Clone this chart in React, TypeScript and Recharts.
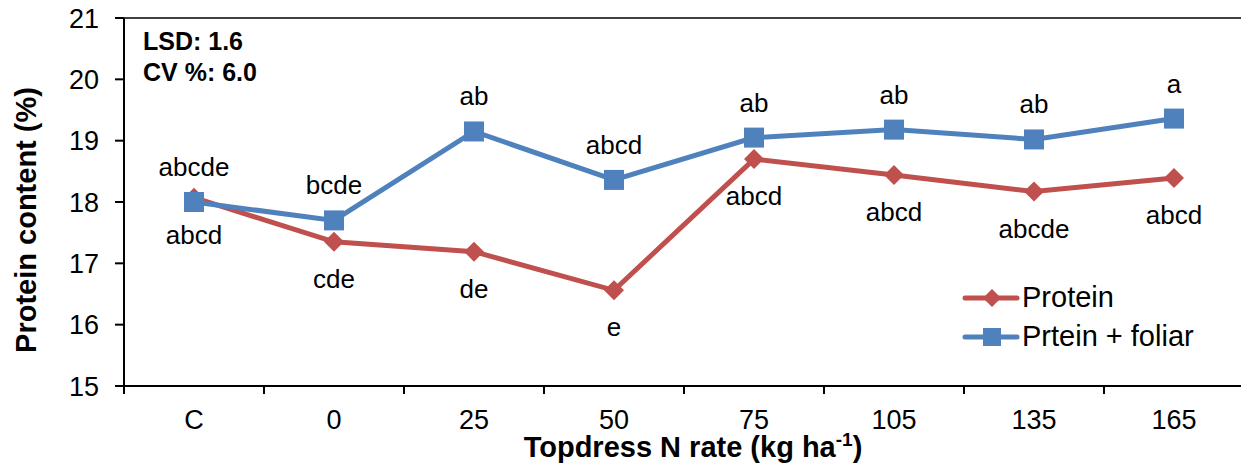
import { LineChart, Line, XAxis, YAxis, Legend, LabelList, ReferenceLine } from "recharts";

const categories = ["C", "0", "25", "50", "75", "105", "135", "165"];
const protein = [18.07, 17.35, 17.19, 16.56, 18.7, 18.44, 18.17, 18.39];
const foliar = [18.0, 17.7, 19.15, 18.36, 19.05, 19.18, 19.02, 19.36];
const proteinLetters = ["abcd", "cde", "de", "e", "abcd", "abcd", "abcde", "abcd"];
const foliarLetters = ["abcde", "bcde", "ab", "abcd", "ab", "ab", "ab", "a"];
const yTicks = [15, 16, 17, 18, 19, 20, 21];

const FONT = '"Liberation Sans", Arial, sans-serif';
const RED = "#C0504D";
const BLUE = "#4F81BD";

// x positions sit in the middle of each category band, ticks on the band edges
const data = categories.map((name, i) => ({
  pos: i + 0.5,
  name,
  protein: protein[i],
  foliar: foliar[i],
  proteinLetter: proteinLetters[i],
  foliarLetter: foliarLetters[i],
}));
const xTicks = Array.from({ length: categories.length * 2 + 1 }, (_, i) => i / 2);

function Diamond({ cx, cy, size = 10 }: { cx?: number; cy?: number; size?: number }) {
  if (cx == null || cy == null) return null;
  const r = size;
  return (
    <polygon
      points={`${cx},${cy - r} ${cx + r},${cy} ${cx},${cy + r} ${cx - r},${cy}`}
      fill={RED}
    />
  );
}

function Square({ cx, cy, side = 20 }: { cx?: number; cy?: number; side?: number }) {
  if (cx == null || cy == null) return null;
  return <rect x={cx - side / 2} y={cy - side / 2} width={side} height={side} fill={BLUE} />;
}

function XTick(props: any) {
  const { x, y, payload } = props;
  const v = payload.value as number;
  if (Number.isInteger(v)) {
    return <line x1={x} x2={x} y1={y - 24} y2={y - 16} stroke="#000" strokeWidth={2} />;
  }
  return (
    <text x={x} y={y} dy="0.71em" textAnchor="middle" fontSize={27} fontFamily={FONT} fill="#000">
      {categories[Math.floor(v)]}
    </text>
  );
}

function XTitle(props: any) {
  const vb = props.viewBox || {};
  const cx = vb.x + vb.width / 2 + 9;
  return (
    <text x={cx} y={457} textAnchor="middle" fontSize={29} fontWeight="bold" fontFamily={FONT} fill="#000">
      Topdress N rate (kg ha
      <tspan fontSize={19} dy={-11}>-1</tspan>
      <tspan dy={11}>)</tspan>
    </text>
  );
}

function YTitle(props: any) {
  const vb = props.viewBox || {};
  const cy = vb.y + vb.height / 2 + 18;
  return (
    <text
      transform={`translate(36, ${cy}) rotate(-90)`}
      textAnchor="middle"
      fontSize={29}
      fontWeight="bold"
      fontFamily={FONT}
      fill="#000"
    >
      Protein content (%)
    </text>
  );
}

function letterLabel(dy: number) {
  return (p: any) => (
    <text x={p.x} y={p.y + dy} textAnchor="middle" fontSize={26} fontFamily={FONT} fill="#000">
      {p.value}
    </text>
  );
}

function LegendBox(props: any) {
  const items = props.payload || [];
  return (
    <div style={{ fontFamily: FONT, fontSize: 29, color: "#000" }}>
      {items.map((item: any) => (
        <div key={item.dataKey} style={{ display: "flex", alignItems: "center", height: 39 }}>
          <svg width={60} height={24}>
            <line x1={3} x2={55} y1={12} y2={12} stroke={item.color} strokeWidth={5} strokeLinecap="round" />
            {item.dataKey === "protein" ? <Diamond cx={30} cy={12} size={9} /> : <Square cx={30} cy={12} side={18} />}
          </svg>
          <span style={{ lineHeight: "29px" }}>{item.value}</span>
        </div>
      ))}
    </div>
  );
}

export default function App() {
  return (
    <div style={{ position: "absolute", left: 0, top: 0, width: 1241, height: 463, overflow: "hidden", background: "#fff" }}>
      <LineChart width={1260} height={463} data={data} margin={{ top: 18, right: 16, left: 0, bottom: 0 }}>
        <XAxis
          dataKey="pos"
          type="number"
          domain={[0, categories.length]}
          ticks={xTicks}
          interval={0}
          tick={<XTick />}
          tickLine={false}
          tickSize={8}
          tickMargin={16}
          axisLine={{ stroke: "#000", strokeWidth: 2 }}
          height={77}
          label={{ content: XTitle }}
        />
        <YAxis
          type="number"
          domain={[15, 21]}
          ticks={yTicks}
          interval={0}
          width={124}
          tickSize={9}
          tickMargin={16}
          tick={{ fontSize: 27, fontFamily: FONT, fill: "#000" }}
          tickLine={{ stroke: "#000", strokeWidth: 2 }}
          axisLine={{ stroke: "#000", strokeWidth: 2 }}
          label={{ content: YTitle }}
        />
        <ReferenceLine y={21} stroke="#000" strokeWidth={1.5} />
        <Legend
          layout="vertical"
          align="center"
          verticalAlign="middle"
          content={<LegendBox />}
          wrapperStyle={{ left: 962, top: 278, width: 280 }}
        />
        <Line
          name="Protein"
          dataKey="protein"
          type="linear"
          stroke={RED}
          strokeWidth={5}
          dot={<Diamond />}
          activeDot={false}
          isAnimationActive={false}
        >
          <LabelList dataKey="proteinLetter" content={letterLabel(46)} />
        </Line>
        <Line
          name="Prtein + foliar"
          dataKey="foliar"
          type="linear"
          stroke={BLUE}
          strokeWidth={5}
          dot={<Square />}
          activeDot={false}
          isAnimationActive={false}
        >
          <LabelList dataKey="foliarLetter" content={letterLabel(-26)} />
        </Line>
      </LineChart>
      <div
        style={{
          position: "absolute",
          left: 143,
          top: 26,
          fontFamily: FONT,
          fontWeight: "bold",
          fontSize: 25,
          lineHeight: "31px",
          color: "#000",
        }}
      >
        <div>LSD: 1.6</div>
        <div>CV %: 6.0</div>
      </div>
    </div>
  );
}
